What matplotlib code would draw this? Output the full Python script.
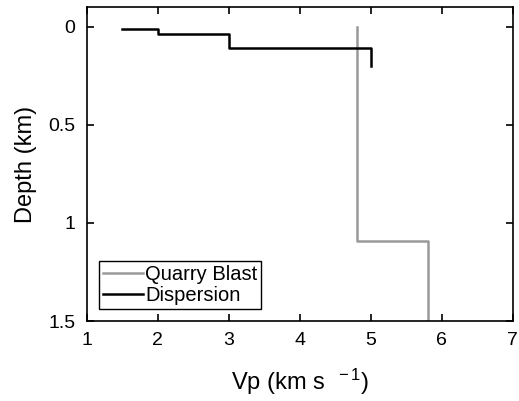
import matplotlib
matplotlib.use("Agg")
import matplotlib.pyplot as plt
import numpy as np

# Data
quarry_vp = [4.8, 4.8, 5.8, 5.8]
quarry_depth = [0.0, 1.09, 1.09, 1.6]

disp_vp = [1.5, 2.0, 3.0, 5.0]
disp_depth = [0.01, 0.035, 0.11, 0.2]

xticks = [1, 2, 3, 4, 5, 6, 7]
yticks = [0, 0.5, 1, 1.5]
yticklabels = ["0", "0.5", "1", "1.5"]

plt.rcParams['font.family'] = ['Liberation Sans', 'DejaVu Sans']
plt.rcParams['mathtext.fontset'] = 'custom'
plt.rcParams['mathtext.rm'] = 'Liberation Sans'
plt.rcParams['mathtext.it'] = 'Liberation Sans'

fig = plt.figure(figsize=(5.19, 4.01), dpi=100)
ax = fig.add_axes([0.167, 0.1995, 0.821, 0.7825])

ax.plot(quarry_vp, quarry_depth, color='#999999', lw=1.8, label='Quarry Blast')
ax.step(disp_vp, disp_depth, where='post', color='black', lw=1.8, label='Dispersion')

ax.set_xlim(1, 7)
ax.set_ylim(1.5, -0.1)
ax.set_xticks(xticks)
ax.set_xticklabels([str(t) for t in xticks])
ax.set_yticks(yticks)
ax.set_yticklabels(yticklabels)
ax.tick_params(direction='in', top=True, right=True, length=5, width=1.2, labelsize=14, pad=8)
for s in ax.spines.values():
    s.set_linewidth(1.2)

ax.set_xlabel('Vp (km s $^{\\ -1}$)', fontsize=17, labelpad=13)
ax.set_ylabel('Depth (km)', fontsize=17, labelpad=8)

leg = ax.legend(loc='lower left', fontsize=14.5, frameon=True, fancybox=False,
                edgecolor='black', framealpha=1, handlelength=2.0,
                handletextpad=0.1, borderpad=0.2, labelspacing=0.1,
                borderaxespad=0.6)
leg.get_frame().set_linewidth(1.0)

fig.savefig('out.png', dpi=100)
